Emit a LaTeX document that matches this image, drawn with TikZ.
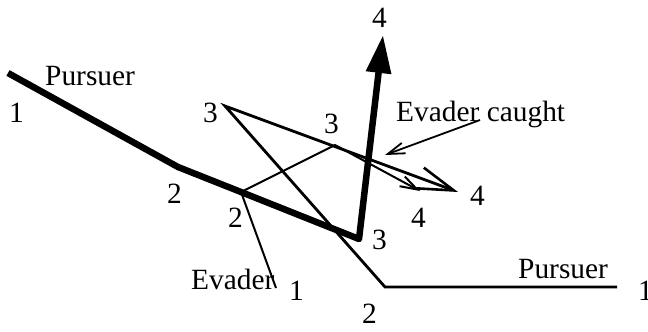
\documentclass[tikz,border=0pt]{standalone}
\usepackage{fontspec}
\setmainfont{Liberation Serif}
\usetikzlibrary{arrows.meta}
\tikzset{
  lbl/.style={inner sep=0pt, anchor=base west, font=\fontsize{29.5}{34}\selectfont},
  thickpath/.style={line width=6.5bp, line join=round, line cap=butt},
  pursuertwo/.style={line width=2.8bp, line join=miter},
  evaderpath/.style={line width=2bp, line join=miter},
  pointer/.style={line width=1.8bp},
}
\begin{document}
\begin{tikzpicture}[x=1bp,y=-1bp]
\useasboundingbox (0,0) rectangle (648,331);
% vertices
\coordinate (pA1) at (8,73);
\coordinate (pA2) at (178,167);
\coordinate (pA2b) at (241,192);
\coordinate (pA3) at (359,239);
\coordinate (pA4) at (383,35);
\coordinate (pB1) at (617,287);
\coordinate (pB2) at (385,287);
\coordinate (pB3) at (225,106);
\coordinate (pB4) at (458,192);
\coordinate (e1) at (276,288);
\coordinate (e2) at (241,192);
\coordinate (e3) at (335,145);
\coordinate (e4) at (420,191);
\coordinate (cs) at (480,120);
\coordinate (ct) at (385,155);
% thick pursuer
\draw[thickpath, -{Triangle[length=38bp,width=24bp]}] (pA1) -- (pA2) -- (pA2b) -- (pA3) -- (pA4);
% thin pursuer
\draw[pursuertwo, -{Straight Barb[length=36bp,width=22bp,line width=2.6bp]}] (pB1) -- (pB2) -- (pB3) -- (pB4);
% evader
\draw[evaderpath, -{Straight Barb[length=17bp,width=11bp,line width=2bp]}] (e1) -- (e2) -- (e3) -- (e4);
% evader caught pointer
\draw[pointer, -{Straight Barb[length=17bp,width=11bp,line width=1.8bp]}] (cs) -- (ct);
% labels
\node[lbl] (tP1) at (45,85) {Pursuer};
\node[lbl] (t1a) at (9,122) {1};
\node[lbl] (t2a) at (167,203) {2};
\node[lbl] (t2b) at (228,227) {2};
\node[lbl] (t3a) at (203,122) {3};
\node[lbl] (t3b) at (324,133) {3};
\node[lbl] (t4a) at (372,27) {4};
\node[lbl] (tEC) at (396,121) {Evader caught};
\node[lbl] (t4b) at (470,205) {4};
\node[lbl] (t4c) at (411,227) {4};
\node[lbl] (t3c) at (372,249) {3};
\node[lbl] (tE) at (191,289) {Evader};
\node[lbl] (t1b) at (289,300) {1};
\node[lbl] (t2c) at (362,323) {2};
\node[lbl] (tP2) at (518,278) {Pursuer};
\node[lbl] (t1c) at (638,300) {1};
\end{tikzpicture}
\end{document}
